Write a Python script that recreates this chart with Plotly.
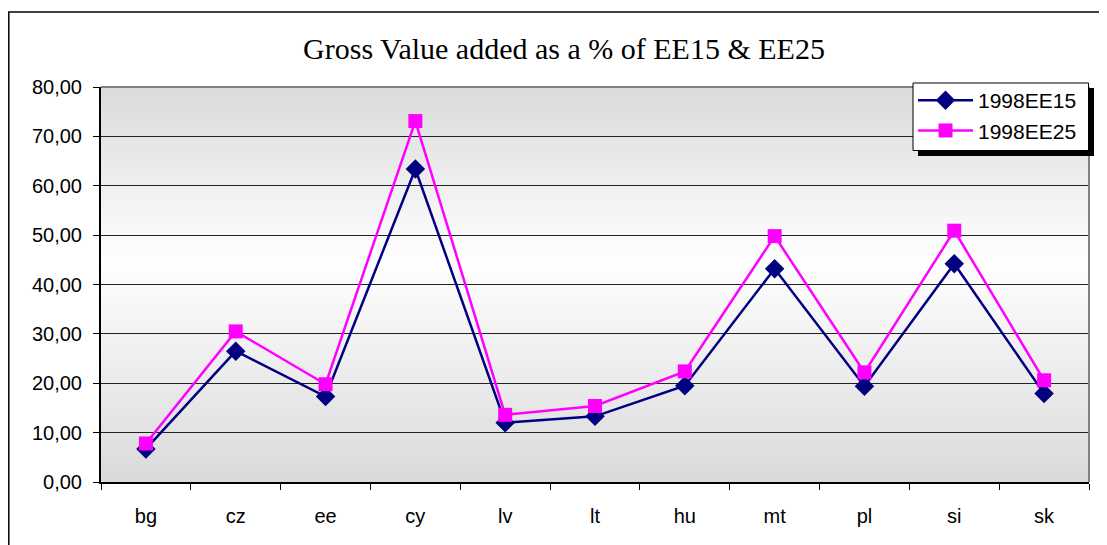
import plotly.graph_objects as go

# data
countries = ["bg", "cz", "ee", "cy", "lv", "lt", "hu", "mt", "pl", "si", "sk"]
ee15_1998 = [6.7, 26.5, 17.3, 63.4, 12.0, 13.3, 19.5, 43.2, 19.4, 44.2, 17.9]
ee25_1998 = [7.8, 30.5, 19.8, 73.1, 13.6, 15.4, 22.4, 49.8, 22.2, 50.9, 20.6]
y_ticks = [0, 10, 20, 30, 40, 50, 60, 70, 80]

# the page body adds an 8px margin, so the figure is shrunk by that much
OFF = 8
W, H = 1107 - OFF, 545 - OFF
L, R, T, B = 101 - OFF, 18, 87 - OFF, 63
PW, PH = W - L - R, H - T - B


def px_x(p):
    # page pixel -> paper x
    return (p - OFF - L) / PW


def px_y(p):
    # page pixel -> paper y
    return (H - B - (p - OFF)) / PH


fig = go.Figure()

fig.add_trace(go.Scatter(
    x=countries, y=ee15_1998, name="1998EE15", mode="lines+markers",
    line=dict(color="#000080", width=2.5),
    marker=dict(symbol="diamond", size=15, color="#000080"),
))
fig.add_trace(go.Scatter(
    x=countries, y=ee25_1998, name="1998EE25", mode="lines+markers",
    line=dict(color="#ff00ff", width=2.5),
    marker=dict(symbol="square", size=14, color="#ff00ff"),
))

shapes = []

# vertical gradient in the plot area: grey at edges, white near the middle
n = 80
mid = 0.56
for i in range(n):
    f0, f1 = i / n, (i + 1) / n
    fc = (f0 + f1) / 2
    d = abs(fc - mid) / (mid if fc < mid else 1 - mid)
    g = int(round(255 - (255 - 218) * d))
    shapes.append(dict(type="rect", xref="x domain", yref="y domain",
                       x0=0, x1=1, y0=f0, y1=f1 + 0.002, layer="below",
                       line=dict(width=0), fillcolor=f"rgb({g},{g},{g})"))

# grey plot-area border on top and right
shapes.append(dict(type="line", xref="paper", yref="paper", x0=0, x1=1, y0=1, y1=1,
                   line=dict(color="#808080", width=2)))
shapes.append(dict(type="line", xref="paper", yref="paper", x0=1, x1=1, y0=0, y1=1,
                   line=dict(color="#808080", width=2)))

# outer chart frame
shapes.append(dict(type="rect", xref="paper", yref="paper",
                   x0=px_x(8.8), x1=px_x(1105), y0=px_y(570), y1=px_y(12),
                   line=dict(color="black", width=1.5)))

# legend shadow and box (the legend itself is drawn transparent on top)
shapes.append(dict(type="rect", xref="paper", yref="paper",
                   x0=px_x(918), x1=px_x(1094), y0=px_y(156), y1=px_y(88),
                   line=dict(width=0), fillcolor="black", layer="above"))
shapes.append(dict(type="rect", xref="paper", yref="paper",
                   x0=px_x(913), x1=px_x(1088.5), y0=px_y(150.5), y1=px_y(83),
                   line=dict(color="black", width=1), fillcolor="white", layer="above"))

fig.update_layout(
    width=W, height=H,
    margin=dict(l=L, r=R, t=T, b=B),
    paper_bgcolor="white",
    plot_bgcolor="white",
    separators=",.",
    font=dict(family="Liberation Sans, Arial", size=20, color="black"),
    title=dict(text="Gross Value added as a % of EE15 & EE25",
               font=dict(family="Liberation Serif, Times New Roman", size=30, color="black"),
               x=(564 - OFF) / W, xanchor="center", y=1 - (48 - OFF) / H, yanchor="middle"),
    showlegend=True,
    legend=dict(x=px_x(913), y=px_y(80), xanchor="left", yanchor="top",
                bgcolor="rgba(0,0,0,0)", borderwidth=0,
                font=dict(size=21), itemwidth=55, tracegroupgap=0),
    shapes=shapes,
)

fig.update_xaxes(
    type="category", range=[-0.5, len(countries) - 0.5],
    showgrid=False, showline=True, linecolor="black", linewidth=2,
    ticks="outside", ticklen=6, tickcolor="black", tickson="boundaries",
    ticklabelstandoff=15, zeroline=False,
)
fig.update_yaxes(
    range=[0, 80], tickvals=y_ticks, tickformat=".2f",
    showgrid=True, gridcolor="#222222", gridwidth=1,
    showline=True, linecolor="black", linewidth=2,
    ticks="outside", ticklen=6, tickcolor="black", ticklabelstandoff=7,
    zeroline=False,
)

fig.write_html("out.html")
